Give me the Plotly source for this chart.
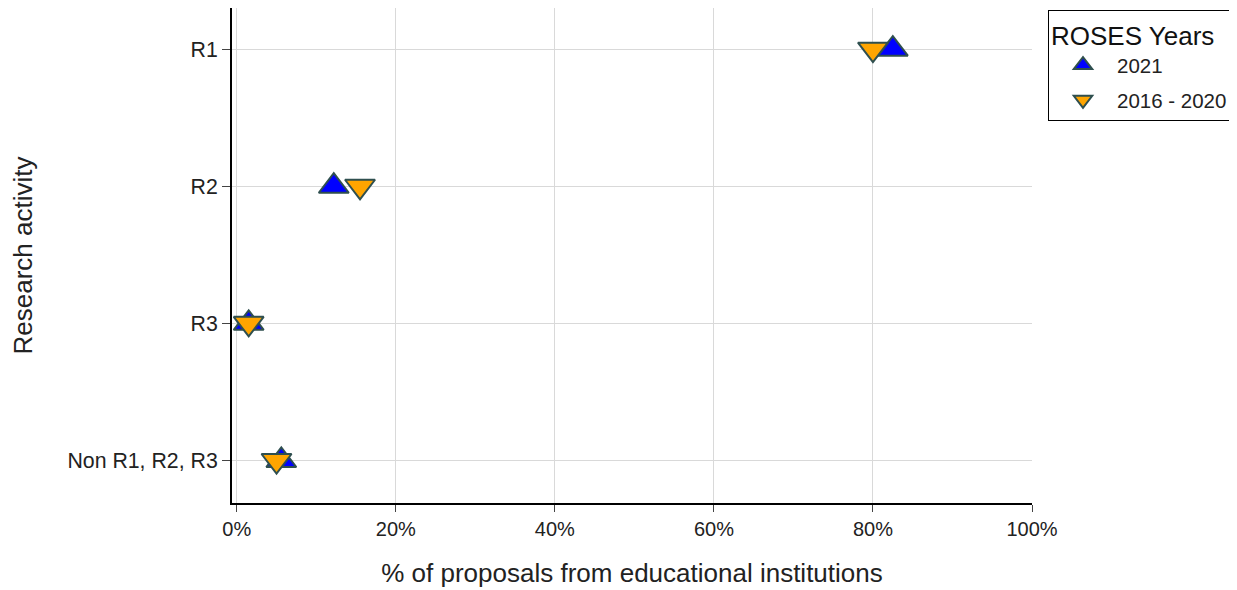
import plotly.graph_objects as go

categories = ["R1", "R2", "R3", "Non R1, R2, R3"]
pct_2021 = [82.5, 12.2, 1.5, 5.6]
pct_2016_2020 = [80.0, 15.5, 1.5, 5.0]
series_names = ["2021", "2016 - 2020"]
x_ticks = [0, 20, 40, 60, 80, 100]
x_tick_labels = ["0%", "20%", "40%", "60%", "80%", "100%"]

fig = go.Figure()
fig.add_trace(go.Scatter(
    x=pct_2021, y=categories, mode="markers", name=series_names[0],
    legendgroup="a",
    marker=dict(symbol="triangle-up", size=26, color="#0000FF",
                line=dict(color="#2F4F4F", width=2)),
))
fig.add_trace(go.Scatter(
    x=pct_2016_2020, y=categories, mode="markers", name=series_names[1],
    legendgroup="b",
    marker=dict(symbol="triangle-down", size=26, color="#FFA500",
                line=dict(color="#2F4F4F", width=2)),
))

font_family = "Liberation Sans, Arial, sans-serif"
fig.update_layout(
    width=1237, height=590,
    margin=dict(l=224, r=213, t=0, b=95),
    plot_bgcolor="white", paper_bgcolor="white",
    font=dict(family=font_family, color="#222", size=20),
    legend=dict(
        title=dict(text="ROSES Years", font=dict(size=26, color="#111")),
        font=dict(size=20.5, color="#222"),
        x=1.02, xanchor="left", y=0.995, yanchor="top",
        bordercolor="black", borderwidth=1, bgcolor="white",
        itemwidth=58, tracegroupgap=5, traceorder="grouped",
    ),
    xaxis=dict(
        range=[-0.6, 100], tickvals=x_ticks, ticktext=x_tick_labels,
        tickfont=dict(size=20),
        showgrid=True, gridcolor="#D9D9D9", gridwidth=1,
        showline=True, linecolor="black", linewidth=2,
        ticks="outside", ticklen=7, tickcolor="#444",
        zeroline=False,
        title=dict(text="% of proposals from educational institutions",
                   font=dict(size=26, color="#222"), standoff=25),
    ),
    yaxis=dict(
        categoryorder="array", categoryarray=categories,
        range=[3.31, -0.3],
        tickfont=dict(size=21.3),
        showgrid=True, gridcolor="#D9D9D9", gridwidth=1,
        showline=True, linecolor="black", linewidth=2,
        ticks="outside", ticklen=8, tickcolor="#444",
        zeroline=False,
        title=dict(text="Research activity", font=dict(size=26, color="#222"),
                   standoff=29),
    ),
)

fig.write_html("out.html")
